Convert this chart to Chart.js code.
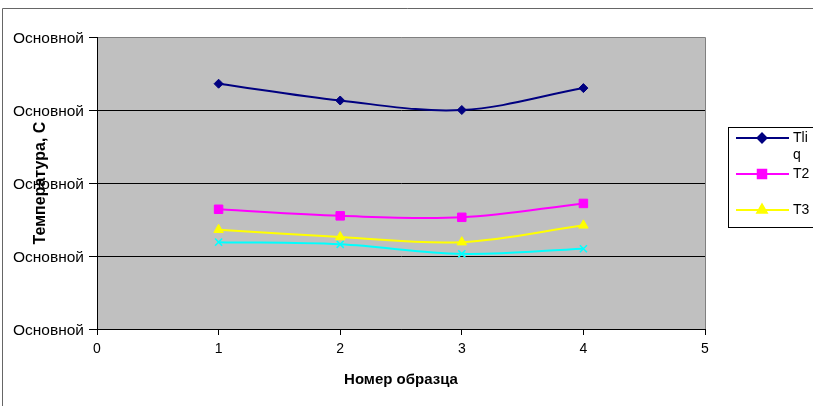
<!DOCTYPE html>
<html>
<head>
<meta charset="utf-8">
<script src="https://cdn.jsdelivr.net/npm/chart.js@4/dist/chart.umd.min.js"></script>
<style>
  html, body { margin: 0; padding: 0; background: #fff; }
  #wrap { width: 813px; height: 406px; position: relative; }
</style>
</head>
<body>
<div id="wrap"><canvas id="c" width="813" height="406"></canvas></div>
<script>
// ============ DATOS ============
const muestras = [1, 2, 3, 4];
const seriesNombres = ['Tliq', 'T2', 'T3', 'T4'];
const tliq = [3.36, 3.13, 3.0, 3.30];
const t2 = [1.64, 1.55, 1.53, 1.72];
const t3 = [1.36, 1.26, 1.19, 1.42];
const t4 = [1.19, 1.16, 1.03, 1.10];
const yTicks = ['Основной', 'Основной', 'Основной', 'Основной', 'Основной'];

const FONT = '"Liberation Sans", Arial, sans-serif';
const colores = ['#000080', '#ff00ff', '#ffff00', '#00ffff'];
const estilos = ['rectRot', 'rect', 'triangle', 'crossRot'];
const radios = [4.5, 6, 5.5, 5];

const puntos = (arr) => muestras.map((m, i) => ({ x: m, y: arr[i] }));

// fondo gris, borde del área y marco exterior
const fondo = {
  id: 'fondo',
  beforeDraw(chart) {
    const { ctx, chartArea: a } = chart;
    ctx.save();
    ctx.fillStyle = '#fff';
    ctx.fillRect(0, 0, chart.width, chart.height);
    ctx.fillStyle = '#c0c0c0';
    ctx.fillRect(a.left, a.top, a.right - a.left, a.bottom - a.top);
    ctx.strokeStyle = '#808080';
    ctx.lineWidth = 1;
    ctx.beginPath();
    ctx.moveTo(a.left, a.top + 0.5); ctx.lineTo(a.right + 0.5, a.top + 0.5); ctx.lineTo(a.right + 0.5, a.bottom);
    ctx.stroke();
    // marco exterior
    ctx.strokeStyle = '#666';
    ctx.beginPath();
    ctx.moveTo(2.5, chart.height); ctx.lineTo(2.5, 8.5); ctx.lineTo(chart.width, 8.5);
    ctx.stroke();
    ctx.restore();
  },
};

// leyenda estilo Excel (recortada al cuadro)
const leyenda = {
  id: 'leyenda',
  afterDraw(chart) {
    const { ctx } = chart;
    const box = { x: 728.5, y: 127.5, w: 100, h: 100 };
    ctx.save();
    ctx.fillStyle = '#fff';
    ctx.strokeStyle = '#000';
    ctx.lineWidth = 1;
    ctx.fillRect(box.x, box.y, box.w, box.h);
    ctx.strokeRect(box.x, box.y, box.w, box.h);
    ctx.font = '14px ' + FONT;
    ctx.textBaseline = 'middle';
    ctx.textAlign = 'left';
    const maxW = chart.width - 793;
    chart.data.datasets.forEach((ds, i) => {
      const y = 138 + i * 36;
      if (y + 8 > box.y + box.h) return;
      ctx.strokeStyle = ds.borderColor;
      ctx.lineWidth = 2;
      ctx.beginPath(); ctx.moveTo(736, y); ctx.lineTo(789, y); ctx.stroke();
      ctx.fillStyle = ds.borderColor; ctx.strokeStyle = ds.borderColor;
      Chart.helpers.drawPoint(ctx, { pointStyle: ds.pointStyle, radius: ds.pointRadius, borderWidth: 1, rotation: 0 }, 762, y);
      // partir texto por caracteres
      const lineas = [];
      let cur = '';
      for (const ch of ds.label) {
        if (cur && ctx.measureText(cur + ch).width > maxW) { lineas.push(cur); cur = ch; }
        else cur += ch;
      }
      lineas.push(cur);
      ctx.fillStyle = '#000';
      lineas.forEach((l, k) => ctx.fillText(l, 793, y + k * 17));
    });
    ctx.restore();
  },
};

const datasets = [tliq, t2, t3, t4].map((arr, i) => ({
  label: seriesNombres[i],
  data: puntos(arr),
  borderColor: colores[i],
  backgroundColor: colores[i],
  pointBackgroundColor: colores[i],
  pointBorderColor: colores[i],
  pointStyle: estilos[i],
  pointRadius: radios[i],
  pointBorderWidth: i === 3 ? 1.5 : 1,
  borderWidth: 2,
  tension: 0.35,
  fill: false,
}));

new Chart(document.getElementById('c'), {
  type: 'line',
  data: { datasets },
  plugins: [fondo, leyenda],
  options: {
    responsive: false,
    animation: false,
    devicePixelRatio: 1,
    layout: { padding: { left: 0, top: 37, right: 108, bottom: 0 } },
    plugins: { legend: { display: false }, tooltip: { enabled: false } },
    scales: {
      x: {
        type: 'linear', min: 0, max: 5,
        afterFit: (s) => { s.height = 77; },
        border: { color: '#000', width: 1 },
        grid: { drawOnChartArea: false, drawTicks: true, tickLength: 6, color: '#000' },
        ticks: { stepSize: 1, color: '#000', padding: 6, font: { family: FONT, size: 14 } },
        title: { display: true, text: 'Номер образца', color: '#000', font: { family: FONT, size: 15, weight: 'bold' }, padding: { top: 0, bottom: 17 } },
      },
      y: {
        min: 0, max: 4,
        afterFit: (s) => { s.width = 97; },
        border: { color: '#000', width: 1 },
        grid: {
          color: (c) => (c.tick && c.tick.value === 4 ? 'rgba(0,0,0,0)' : '#000'),
          tickColor: '#000', tickLength: 8, lineWidth: 1,
        },
        ticks: {
          stepSize: 1, color: '#000', padding: 5, labelOffset: 2,
          font: { family: FONT, size: 15.5 },
          callback: (v, i) => yTicks[i],
        },
        title: { display: true, text: 'Температура, C', color: '#000', font: { family: FONT, size: 16, weight: 'bold' }, padding: { top: 31, bottom: 0 } },
      },
    },
  },
});
</script>
</body>
</html>
